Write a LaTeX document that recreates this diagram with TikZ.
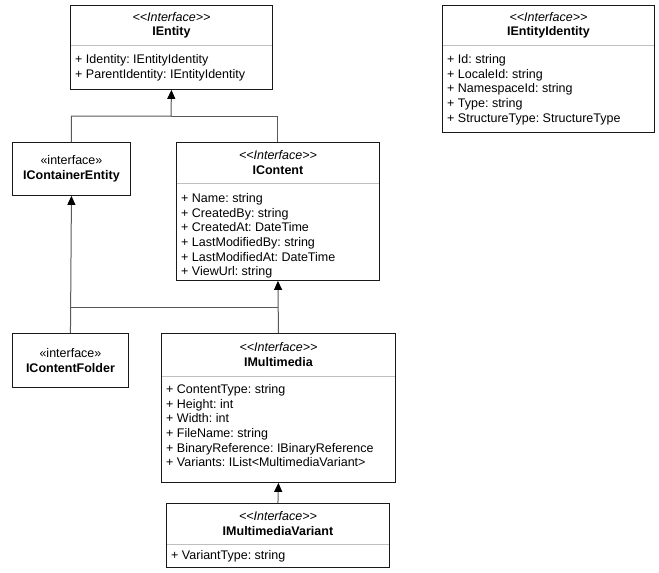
\documentclass[tikz,border=0pt]{standalone}
\usepackage{fontspec}
\newfontfamily\umlfont{Liberation Sans}
\usetikzlibrary{positioning,arrows.meta}

\begin{document}
\begin{tikzpicture}[x=1pt,y=-1pt,font=\umlfont\fontsize{12.5}{14.6}\selectfont\frenchspacing,
    class/.style={draw=black!90,line width=0.9pt,anchor=north west,inner sep=0pt,align=center},
    title/.style={align=center,inner sep=0pt},
    attrs/.style={align=left,anchor=north west,inner sep=0pt},
    split/.style={draw=black!25,line width=0.9pt,shorten <=0.5pt,shorten >=0.5pt},
    link/.style={draw=black!65,line width=1pt},
    inherit/.style={link,-{Triangle[width=8pt,length=9pt,color=black]}}]
    \useasboundingbox (0,0) rectangle (659,573);

    % interfaces with members
    \node[class,minimum width=202pt,minimum height=84pt] (entity) at (70,5) {};
    \node[title,minimum height=40pt,below=0pt of entity.north] (entityT) {\textit{<<Interface>>}\\\textbf{IEntity}};
    \draw[split] (entityT.south -| entity.west) -- (entityT.south -| entity.east);
    \node[attrs,below right=9pt and 5pt of entityT.south -| entity.west] (entityA)
        {+ Identity: IEntityIdentity\\+ ParentIdentity: IEntityIdentity};

    \node[class,minimum width=212pt,minimum height=127pt] (identity) at (442,5) {};
    \node[title,minimum height=40pt,below=0pt of identity.north] (identityT) {\textit{<<Interface>>}\\\textbf{IEntityIdentity}};
    \draw[split] (identityT.south -| identity.west) -- (identityT.south -| identity.east);
    \node[attrs,below right=9pt and 5pt of identityT.south -| identity.west] (identityA)
        {+ Id: string\\+ LocaleId: string\\+ NamespaceId: string\\+ Type: string\\+ StructureType: StructureType};

    \node[class,minimum width=203pt,minimum height=138pt] (content) at (176,142) {};
    \node[title,minimum height=41pt,below=0pt of content.north] (contentT) {\textit{<<Interface>>}\\\textbf{IContent}};
    \draw[split] (contentT.south -| content.west) -- (contentT.south -| content.east);
    \node[attrs,below right=10pt and 5pt of contentT.south -| content.west] (contentA)
        {+ Name: string\\+ CreatedBy: string\\+ CreatedAt: DateTime\\+ LastModifiedBy: string\\+ LastModifiedAt: DateTime\\+ ViewUrl: string};

    \node[class,minimum width=234pt,minimum height=149pt] (multimedia) at (161,333) {};
    \node[title,minimum height=43pt,below=0pt of multimedia.north] (multimediaT) {\textit{<<Interface>>}\\\textbf{IMultimedia}};
    \draw[split] (multimediaT.south -| multimedia.west) -- (multimediaT.south -| multimedia.east);
    \node[attrs,below right=8pt and 5pt of multimediaT.south -| multimedia.west] (multimediaA)
        {+ ContentType: string\\+ Height: int\\+ Width: int\\+ FileName: string\\+ BinaryReference: IBinaryReference\\+ Variants: IList<MultimediaVariant>};

    \node[class,minimum width=223pt,minimum height=64pt] (variant) at (166,503) {};
    \node[title,minimum height=41pt,below=0pt of variant.north] (variantT) {\textit{<<Interface>>}\\\textbf{IMultimediaVariant}};
    \draw[split] (variantT.south -| variant.west) -- (variantT.south -| variant.east);
    \node[attrs,below right=6pt and 5pt of variantT.south -| variant.west] (variantA)
        {+ VariantType: string};

    % marker interfaces
    \node[class,minimum width=118pt,minimum height=53pt] (container) at (12,142) {«interface»\\\textbf{IContainerEntity}};
    \node[class,minimum width=116pt,minimum height=54pt] (folder) at (12,333) {«interface»\\\textbf{IContentFolder}};

    % inheritance
    \coordinate (upjoin) at (171,116);
    \coordinate (lowrow) at (0,307);
    \draw[inherit] (container.north) |- (upjoin) -- (entity.south);
    \draw[link] (content.north) |- (upjoin);
    \draw[inherit] (folder.north) -- (container.south);
    \draw[inherit] (multimedia.north) -- (content.south);
    \draw[link] (folder.north |- lowrow) -- (multimedia.north |- lowrow);
    \draw[inherit] (variant.north) -- (multimedia.south);
\end{tikzpicture}
\end{document}
